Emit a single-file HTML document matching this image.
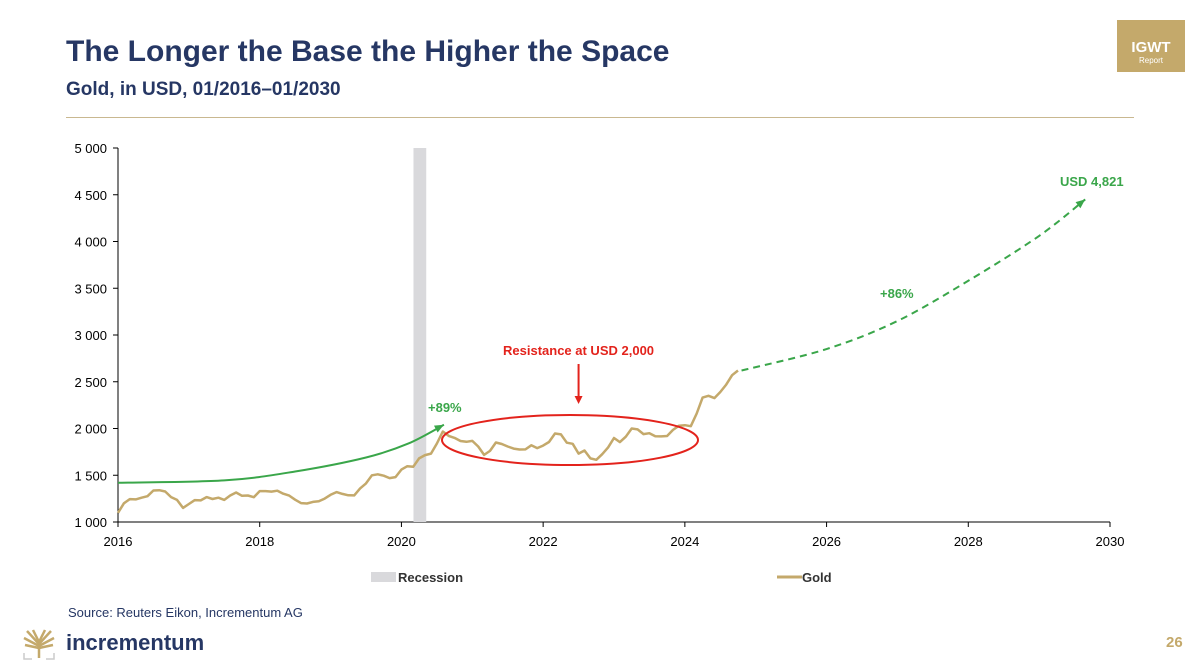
<!DOCTYPE html>
<html><head><meta charset="utf-8"><style>
body{margin:0;width:1200px;height:669px;background:#fff;font-family:"Liberation Sans",Arial,sans-serif;overflow:hidden;position:relative}
.t{position:absolute;margin:0}
</style></head><body>
<div class="t" style="left:66px;top:35px;font-size:30px;font-weight:bold;color:#263764">The Longer the Base the Higher the Space</div>
<div class="t" style="left:66px;top:79px;font-size:19px;font-weight:bold;color:#263764">Gold, in USD, 01/2016–01/2030</div>
<div class="t" style="left:1117px;top:20px;width:68px;height:52px;background:#c4a96b;color:#fff;text-align:center"><div style="font-weight:bold;font-size:15px;margin-top:19px">IGWT</div><div style="font-size:8px">Report</div></div>
<div class="t" style="left:66px;top:117px;width:1068px;height:1px;background:#c9b890"></div>
<svg class="t" style="left:0;top:0" width="1200" height="669">
<g id="ax" font-size="13" fill="#000"></g>
<g id="marks"></g>
</svg>
<div class="t" style="left:68px;top:605px;font-size:13px;color:#263764">Source: Reuters Eikon, Incrementum AG</div>
<svg class="t" style="left:22px;top:628px" width="34" height="34">
<g stroke="#c4a96b" stroke-width="2.5"><line x1="17" y1="30" x2="17" y2="14"/><line x1="17" y1="16" x2="5" y2="3"/><line x1="17" y1="16" x2="29" y2="3"/><line x1="17" y1="14" x2="11" y2="2"/><line x1="17" y1="14" x2="23" y2="2"/><line x1="17" y1="18" x2="2" y2="10"/><line x1="17" y1="18" x2="32" y2="10"/><line x1="17" y1="20" x2="3" y2="17"/><line x1="17" y1="20" x2="31" y2="17"/></g>
<path d="M2 25v6h8M32 25v6h-8" stroke="#ccc" fill="none" stroke-width="1.5"/></svg>
<div class="t" style="left:66px;top:630px;font-size:22px;font-weight:bold;color:#263764">incrementum</div>
<div class="t" style="left:1166px;top:634px;font-size:15px;font-weight:bold;color:#c4a96b">26</div>
<script>
const xTicks=[2016,2018,2020,2022,2024,2026,2028,2030];
const yTicks=[1000,1500,2000,2500,3000,3500,4000,4500,5000];
const yTickLabels=["1 000","1 500","2 000","2 500","3 000","3 500","4 000","4 500","5 000"];
const goldValues=[1097,1200,1245,1242,1260,1276,1337,1340,1326,1266,1236,1151,
1192,1234,1231,1266,1246,1260,1236,1283,1315,1280,1283,1265,
1331,1330,1325,1335,1303,1282,1238,1202,1198,1215,1221,1250,
1291,1320,1300,1286,1284,1359,1413,1500,1510,1495,1470,1480,
1560,1597,1590,1680,1715,1732,1840,1968,1921,1900,1866,1858,
1867,1808,1718,1760,1850,1834,1807,1785,1775,1777,1820,1790,
1817,1856,1947,1937,1848,1836,1732,1765,1680,1665,1725,1798,
1898,1855,1912,2000,1990,1940,1950,1918,1915,1920,1985,2030,
2035,2025,2160,2330,2350,2325,2390,2470,2570,2620];
const trendYears=[2016,2017.5,2018.5,2019.5,2020.1,2020.6];
const trendValues=[1420,1445,1540,1690,1840,2040];
const projYears=[2024.8,2026,2027,2028,2029,2029.65];
const projValues=[2620,2850,3150,3580,4060,4450];
const recession=[2020.17,2020.35];
const X=v=>118+(v-2016)*(992/14), Y=v=>522-(v-1000)*(374/4000);
const ns="http://www.w3.org/2000/svg";
const ax=document.getElementById('ax'), mk=document.getElementById('marks');
function el(t,a,p){const e=document.createElementNS(ns,t);for(const k in a)e.setAttribute(k,a[k]);p.appendChild(e);return e;}
const rec=el('rect',{x:X(recession[0]),y:Y(5000),width:X(recession[1])-X(recession[0]),height:Y(1000)-Y(5000),fill:'#d9d9dc'},mk);


el('line',{x1:118,y1:Y(5000),x2:118,y2:Y(1000),stroke:'#000'},ax);
el('line',{x1:118,y1:Y(1000),x2:1110,y2:Y(1000),stroke:'#000'},ax);
yTicks.forEach((v,i)=>{el('line',{x1:113,y1:Y(v),x2:118,y2:Y(v),stroke:'#000'},ax);
const t=el('text',{x:107,y:Y(v)+5,'text-anchor':'end'},ax);t.textContent=yTickLabels[i];

});
xTicks.forEach(v=>{el('line',{x1:X(v),y1:Y(1000),x2:X(v),y2:Y(1000)+5,stroke:'#000'},ax);
const t=el('text',{x:X(v),y:Y(1000)+24,'text-anchor':'middle'},ax);t.textContent=v;

});
function smooth(xs,ys){const P=xs.map((x,i)=>[X(x),Y(ys[i])]);let d='M'+P[0][0]+' '+P[0][1];
for(let i=0;i<P.length-1;i++){const p0=P[Math.max(0,i-1)],p1=P[i],p2=P[i+1],p3=P[Math.min(P.length-1,i+2)];
d+=` C${p1[0]+(p2[0]-p0[0])/6} ${p1[1]+(p2[1]-p0[1])/6} ${p2[0]-(p3[0]-p1[0])/6} ${p2[1]-(p3[1]-p1[1])/6} ${p2[0]} ${p2[1]}`;}return d;}
const tr=el('path',{d:smooth(trendYears,trendValues),stroke:'#3aa64a','stroke-width':2,fill:'none'},mk);


function head(xs,ys){const n=xs.length,x1=X(xs[n-1]),y1=Y(ys[n-1]),x0=X(xs[n-2]),y0=Y(ys[n-2]);const a=Math.atan2(y1-y0,x1-x0);
return el('polygon',{points:`${x1},${y1} ${x1-10*Math.cos(a-0.4)},${y1-10*Math.sin(a-0.4)} ${x1-10*Math.cos(a+0.4)},${y1-10*Math.sin(a+0.4)}`,fill:'#3aa64a'},mk);}
head(trendYears,trendValues);
let g='';goldValues.forEach((v,i)=>{g+=(i?'L':'M')+X(2016+i/12).toFixed(1)+' '+Y(v).toFixed(1);});
const gl=el('path',{d:g,stroke:'#c4a96b','stroke-width':2.5,fill:'none','stroke-linejoin':'round'},mk);


const pr=el('path',{d:smooth(projYears,projValues),stroke:'#3aa64a','stroke-width':2,fill:'none','stroke-dasharray':'7 5'},mk);


head(projYears,projValues);
const ell=el('ellipse',{cx:570,cy:440,rx:128,ry:25,stroke:'#e3231c','stroke-width':2,fill:'none'},mk);


el('line',{x1:X(2022.5),y1:364,x2:X(2022.5),y2:398,stroke:'#e3231c','stroke-width':2},mk);
el('polygon',{points:`${X(2022.5)-4},396 ${X(2022.5)+4},396 ${X(2022.5)},404`,fill:'#e3231c'},mk);
function txt(x,y,s,c,n){const t=el('text',{x:x,y:y,'font-size':13,'font-weight':'bold',fill:c},mk);t.textContent=s;

}
txt(503,355,'Resistance at USD 2,000','#e3231c','resistance-label');
txt(428,412,'+89%','#3aa64a','gain-89-label');
txt(880,298,'+86%','#3aa64a','gain-86-label');
txt(1060,186,'USD 4,821','#3aa64a','target-label');
el('rect',{x:371,y:572,width:25,height:10,fill:'#d9d9dc'},mk);
txt(398,582,'Recession','#333','legend-recession');
el('line',{x1:777,y1:577,x2:802,y2:577,stroke:'#c4a96b','stroke-width':3},mk);
txt(802,582,'Gold','#333','legend-gold');
</script>
</body></html>
